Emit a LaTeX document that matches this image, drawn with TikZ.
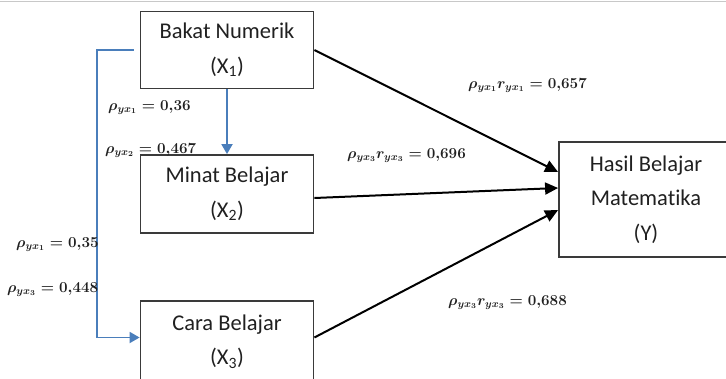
\RequirePackage{fix-cm}
\documentclass[tikz,border=0pt]{standalone}
\usepackage[no-math]{fontspec}
\setmainfont[Ligatures=NoCommon]{Carlito}
\usetikzlibrary{arrows.meta}
\definecolor{boxline}{HTML}{3A3A3A}
\definecolor{boxtext}{HTML}{202020}
\definecolor{linkblue}{HTML}{4A7EBB}
\definecolor{topline}{HTML}{C8C8C8}
\begin{document}
\begin{tikzpicture}[x=1pt,y=-1pt,
  var/.style={draw=boxline, line width=1.8pt, text=boxtext, align=center,
    minimum width=173pt, inner sep=0pt, font=\fontsize{22.5}{34.5}\selectfont},
  effect/.style={draw=black, line width=2pt, -{Triangle[length=13pt,width=12pt]}},
  link/.style={draw=linkblue, line width=1.8pt, -{Triangle[length=10pt,width=11pt]}},
  coef/.style={anchor=base west, inner sep=0pt, text=boxtext, font=\fontsize{15.2}{18}\selectfont\boldmath}]
\useasboundingbox (0,0) rectangle (726,378);
\begin{scope}
\clip (0,0) rectangle (726,378);
\draw[topline, line width=1.5pt] (0,1.5) -- (726,1.5);

% variables
\node[var, minimum height=77pt] (x1) at (227,50) {Bakat Numerik\\(X\textsubscript{1})};
\node[var, minimum height=78pt] (x2) at (227,194) {Minat Belajar\\(X\textsubscript{2})};
\node[var, minimum height=81pt] (x3) at (227,341.5) {Cara Belajar\\(X\textsubscript{3})};
\node[var, minimum width=174pt, minimum height=115pt] (y) at (646,199.5) {Hasil Belajar\\Matematika\\(Y)};

% links between the independent variables
\draw[link] (x1.south) -- (x2.north);
\draw[link] ([xshift=-6pt]x1.west) -- ++(-37,0) |- ([yshift=4pt]x3.west);

% effects on Y
\draw[effect] (x1.east) -- ([yshift=27.5pt]y.west);
\draw[effect] ([yshift=-4pt]x2.east) -- ([yshift=11.5pt]y.west);
\draw[effect] ([yshift=4pt]x3.east) -- ([yshift=-10.5pt]y.west);

% coefficients
\node[coef] (c1) at (108,110) {$\rho_{yx_1} = 0{,}36$};
\node[coef] (c2) at (105,153) {$\rho_{yx_2} = 0{,}467$};
\node[coef] (c3) at (16,247) {$\rho_{yx_1} = 0{,}35$};
\node[coef] (c4) at (7,292) {$\rho_{yx_3} = 0{,}448$};
\node[coef] (c5) at (468,88) {$\rho_{yx_1} r_{yx_1} = 0{,}657$};
\node[coef] (c6) at (347,158) {$\rho_{yx_3} r_{yx_3} = 0{,}696$};
\node[coef] (c7) at (448,305) {$\rho_{yx_3} r_{yx_3} = 0{,}688$};
\end{scope}
\end{tikzpicture}
\end{document}
